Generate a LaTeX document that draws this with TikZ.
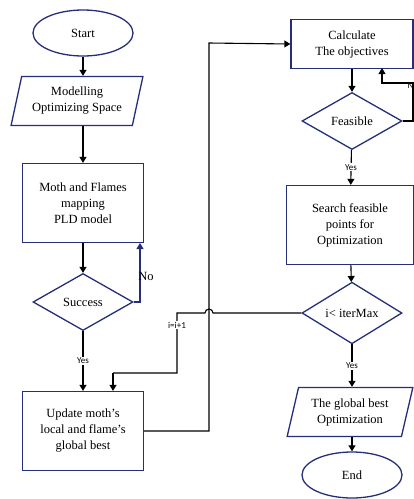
\documentclass[tikz,border=0pt]{standalone}
\usepackage{fontspec}
\setmainfont{Liberation Serif}
\newfontfamily\labelfont{Carlito}
\usetikzlibrary{shapes.geometric,arrows.meta}
\definecolor{navyline}{RGB}{36,46,122}
\tikzset{
  flowbox/.style={draw=navyline, line width=1.3pt, align=center, inner sep=2pt, font=\fontsize{12.5}{16}\selectfont},
  termbox/.style={flowbox, ellipse, minimum width=100pt, minimum height=46pt},
  procbox/.style={flowbox, rectangle, minimum width=121pt, minimum height=79pt},
  iobox/.style={flowbox, trapezium, trapezium left angle=74, trapezium right angle=106, trapezium stretches=true, minimum height=49pt},
  testbox/.style={flowbox, diamond, inner sep=0pt, minimum width=100pt, minimum height=57pt},
  flowline/.style={line width=1.1pt, -{Triangle[width=7pt,length=6pt]}},
  tagtext/.style={font=\labelfont\fontsize{9}{10}\selectfont, fill=white, inner sep=1pt}
}
\begin{document}
\begin{tikzpicture}[x=1pt,y=-1pt]
\useasboundingbox (0,0) rectangle (414,499);
% left column
\node[termbox] (start) at (83,33) {Start};
\node[iobox, minimum width=132pt] (space) at (77,101) {Modelling\\Optimizing Space};
\node[procbox] (mapping) at (83,203) {Moth and Flames\\mapping\\PLD model};
\node[testbox] (success) at (83,302) {Success};
\node[procbox] (update) at (83,431) {Update moth’s\\local and flame’s\\global best};
% right column
\node[procbox, minimum width=122pt, minimum height=49pt] (objective) at (352,44) {Calculate\\The objectives};
\node[testbox] (feasible) at (352,121) {Feasible};
\node[procbox, minimum width=127pt] (search) at (350,225) {Search feasible\\points for\\Optimization};
\node[testbox] (itermax) at (352,313) {i< iterMax};
\node[iobox, minimum width=127pt] (best) at (350,412) {The global best\\Optimization};
\node[termbox] (finish) at (352,475) {End};
\coordinate (hop) at (209,313);
% connectors
\draw[flowline] (start) -- (start |- space.north);
\draw[flowline] (space.south -| mapping) -- (mapping);
\draw[flowline] (mapping) -- (success);
\draw[flowline] (success) -- node[tagtext] {Yes} (update);
\draw[flowline, draw=navyline] (success.east) -- (140,302) -- (140,243);
\node[font=\fontsize{12.5}{16}\selectfont] (nolabel) at (146,276) {No};
\draw[flowline] (update.east) -- (209,431) -- (209,43) -- (objective.west);
\draw[flowline] (objective) -- (feasible);
\draw[flowline] (feasible.east) -- (413,121) -- (413,83) -- (382,83) -- (382,68);
\node[font=\labelfont\fontsize{9}{10}\selectfont] (nolabelb) at (413,86) {No};
\draw[flowline] (feasible) -- node[tagtext] {Yes} (search);
\draw[flowline] (search) -- (itermax);
\draw[line width=1.1pt] (itermax.west) -- ([xshift=4pt]hop) arc[start angle=0, end angle=180, radius=4pt] -- (177,313) -- (177,373) -- (113,373);
\draw[flowline] (113,373) -- (update.north -| 113,0);
\node[tagtext] (counter) at (177,325) {i=i+1};
\draw[flowline] (itermax.south) -- node[tagtext] {Yes} (best.north -| itermax);
\draw[flowline] (best.south -| finish) -- (finish);
\end{tikzpicture}
\end{document}
